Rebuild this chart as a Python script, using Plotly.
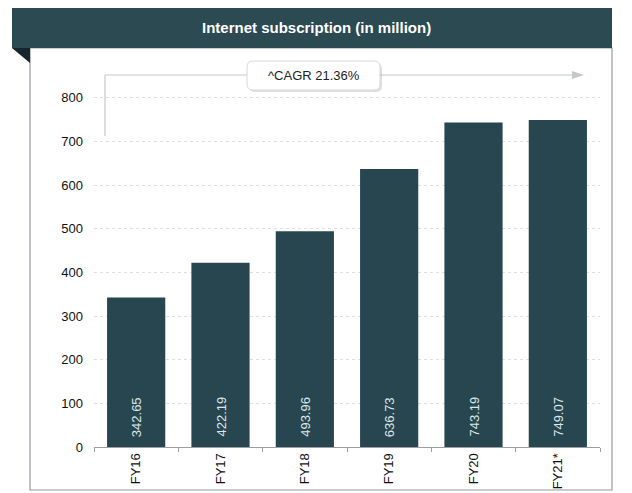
import plotly.graph_objects as go

categories = ["FY16", "FY17", "FY18", "FY19", "FY20", "FY21*"]
values = [342.65, 422.19, 493.96, 636.73, 743.19, 749.07]
value_labels = ["342.65", "422.19", "493.96", "636.73", "743.19", "749.07"]
title_text = "Internet subscription (in million)"
cagr_text = "^CAGR 21.36%"

W, H = 632, 493
OFF = 8  # page body margin offset
L, R, T, B = 86, 40, 46, 54
PW = W - L - R
PH = H - T - B

def px(x):
    return (x - OFF - L) / PW

def py(y):
    return (H - B - (y - OFF)) / PH

def rrect(x0, y0, x1, y1, r):
    X0, X1 = px(x0), px(x1)
    Y0, Y1 = py(y0), py(y1)
    rx = r / PW
    ry = r / PH
    return (f"M {X0+rx},{Y0} L {X1-rx},{Y0} Q {X1},{Y0} {X1},{Y0-ry} "
            f"L {X1},{Y1+ry} Q {X1},{Y1} {X1-rx},{Y1} L {X0+rx},{Y1} "
            f"Q {X0},{Y1} {X0},{Y1+ry} L {X0},{Y0-ry} Q {X0},{Y0} {X0+rx},{Y0} Z")

BAR = "#27464f"
HEAD = "#2b4a52"

fig = go.Figure()
fig.add_trace(go.Bar(
    x=categories, y=values, marker_color=BAR, marker_line_width=0,
    hoverinfo="skip",
))

shapes = [
    dict(type="rect", xref="paper", yref="paper", x0=px(30), x1=px(612), y0=py(48), y1=py(490),
         line=dict(color="#8f9a9e", width=1.2), fillcolor="rgba(0,0,0,0)", layer="below"),
    dict(type="rect", xref="paper", yref="paper", x0=px(12), x1=px(612), y0=py(8), y1=py(48),
         line=dict(width=0), fillcolor=HEAD),
    dict(type="path", xref="paper", yref="paper",
         path=f"M {px(12)},{py(48)} L {px(30)},{py(48)} L {px(30)},{py(63)} Z",
         line=dict(width=0), fillcolor="#16252a"),
    dict(type="line", xref="paper", yref="paper", x0=px(105), x1=px(105), y0=py(136), y1=py(75),
         line=dict(color="#c4c8ca", width=1.2)),
    dict(type="line", xref="paper", yref="paper", x0=px(105), x1=px(574), y0=py(75), y1=py(75),
         line=dict(color="#c4c8ca", width=1.2)),
    dict(type="path", xref="paper", yref="paper",
         path=f"M {px(572)},{py(71)} L {px(584)},{py(75)} L {px(572)},{py(79)} Z",
         line=dict(width=0), fillcolor="#c4c8ca"),
    dict(type="path", xref="paper", yref="paper", path=rrect(249, 63, 382, 92, 6),
         line=dict(width=0), fillcolor="rgba(0,0,0,0.12)"),
    dict(type="path", xref="paper", yref="paper", path=rrect(247, 61, 380, 90, 6),
         line=dict(color="#d4d8da", width=1), fillcolor="white"),
]

annotations = [
    dict(text=f"<b>{title_text}</b>", xref="paper", yref="paper", x=px(316), y=py(28),
         showarrow=False, font=dict(color="white", size=15, family="Liberation Sans"),
         xanchor="center", yanchor="middle"),
    dict(text=cagr_text, xref="paper", yref="paper", x=px(314), y=py(75),
         showarrow=False, font=dict(color="#222", size=13, family="Liberation Sans"),
         xanchor="center", yanchor="middle"),
]
for c, lab in zip(categories, value_labels):
    annotations.append(dict(
        text=lab, x=c, y=0, xref="x", yref="y", showarrow=False, textangle=-90,
        xanchor="center", yanchor="bottom", yshift=8,
        font=dict(color="#dfe6ea", size=13, family="Liberation Sans"),
    ))

fig.update_layout(
    width=W, height=H, margin=dict(l=L, r=R, t=T, b=B),
    paper_bgcolor="white", plot_bgcolor="white",
    bargap=0.31, showlegend=False,
    shapes=shapes, annotations=annotations,
    font=dict(family="Liberation Sans", color="#111"),
    xaxis=dict(
        range=[-0.5, 5.5], tickangle=-90, tickfont=dict(size=13, color="#111"),
        showline=True, linecolor="#9aa0a3", linewidth=1,
        ticks="outside", ticklen=4, tickcolor="#9aa0a3", tickson="boundaries",
        showgrid=False,
    ),
    yaxis=dict(
        range=[0, 900], tickvals=[0, 100, 200, 300, 400, 500, 600, 700, 800],
        tickfont=dict(size=13, color="#111"),
        showgrid=True, gridcolor="#e0e0e0", griddash="dot", gridwidth=1,
        zeroline=False, showline=False, ticklabelstandoff=10,
    ),
)

fig.write_html("out.html")
